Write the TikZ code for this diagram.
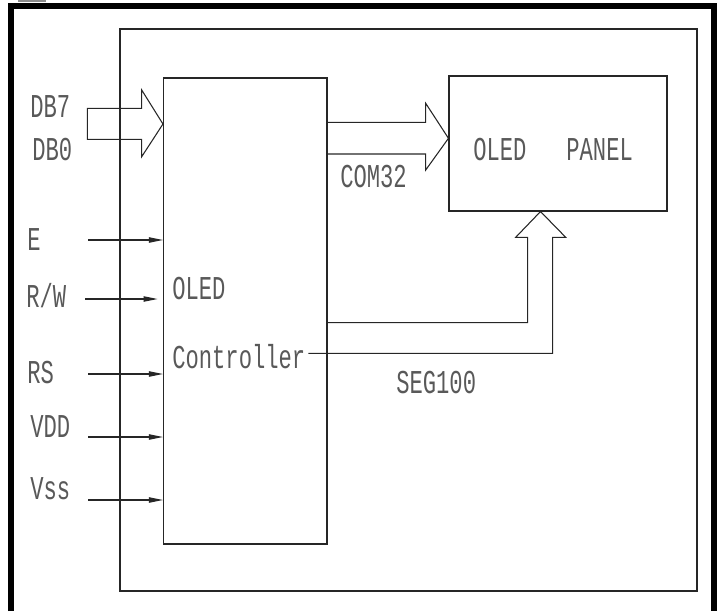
\documentclass[tikz,border=0pt]{standalone}
\usepackage{fontspec}
\usetikzlibrary{arrows.meta,fit}
\newfontfamily\cadfont{Liberation Mono}[FakeStretch=0.665]
\begin{document}
\begin{tikzpicture}[x=0.75pt,y=-0.75pt,
  lbl/.style={inner sep=0pt,anchor=base west,text=black!65,font=\cadfont\fontsize{25pt}{25pt}\selectfont},
  box/.style={draw=black!85,line width=0.8pt,inner sep=0pt},
  bus/.style={draw=black!85,line width=0.8pt,line join=miter},
  sig/.style={draw=black!85,line width=0.8pt,-{Triangle[length=10.5pt,width=4pt]}},
  frame/.style={line width=4.5pt,line join=miter}]
\useasboundingbox (0,0) rectangle (721,611);
% outer frame (open at the bottom)
\draw[frame] (11,611) -- (11,6) -- (714,6) -- (714,611);
\fill[black!45] (18,0) rectangle (46,1.5);
% boxes
\node[box,fit={(120,29)(697,591)}] (outer) {};
\node[box,fit={(163.5,78)(327,544)}] (ctrl) {};
\node[box,fit={(449,76)(667,211)}] (panel) {};
% texts
\node[lbl] (db7) at (30,117) {DB7};
\node[lbl] (db0) at (32,160) {DB0};
\node[lbl] (e) at (27,250) {E};
\node[lbl] (rw) at (26,307) {R/W};
\node[lbl] (rs) at (27,383) {RS};
\node[lbl] (vdd) at (30,437) {VDD};
\node[lbl] (vss) at (30,499) {Vss};
\node[lbl] (com) at (340,187) {COM32};
\node[lbl] (seg) at (396,393) {SEG100};
\node[lbl] (oled) at (172,299) {OLED};
\node[lbl] (contr) at (172,368) {Controller};
\node[lbl] (ptxt) at (473,160) {OLED~~~PANEL};
% signal arrows
\coordinate (es) at (88,240);
\coordinate (rws) at (85,299);
\coordinate (rss) at (88,374);
\coordinate (vdds) at (88,437);
\coordinate (vsss) at (88,500);
\draw[sig] (es) -- (es -| ctrl.west);
\draw[sig] (rws) -- ([xshift=-4pt]rws -| ctrl.west);
\draw[sig] (rss) -- (rss -| ctrl.west);
\draw[sig] (vdds) -- (vdds -| ctrl.west);
\draw[sig] (vsss) -- (vsss -| ctrl.west);
% DB bus arrow
\coordinate (dbt) at (87.3,108.3);
\coordinate (dbtip) at (ctrl.west |- 0,124);
\draw[bus] (dbt) -- (141.7,108.3) -- (141.7,90) -- (dbtip) -- (141.7,156.7)
  -- (141.7,139.3) -- (87.3,139.3) -- cycle;
% COM bus arrow
\coordinate (comtip) at (panel.west |- 0,138.3);
\draw[bus] (ctrl.east |- 0,122.3) -- (425.7,122.3) -- (425.7,103.3) -- (comtip)
  -- (425.7,170) -- (425.7,154) -- (ctrl.east |- 0,154);
% SEG bus arrow
\coordinate (segtip) at (panel.south -| 540.5,0);
\draw[bus] (ctrl.east |- 0,322.7) -- (527.7,322.7) -- (527.7,237.3) -- (515.7,237.3)
  -- (segtip) -- (565.7,237.3) -- (552.7,237.3) -- (552.7,353.3) -- (308.3,353.3);
\end{tikzpicture}
\end{document}
